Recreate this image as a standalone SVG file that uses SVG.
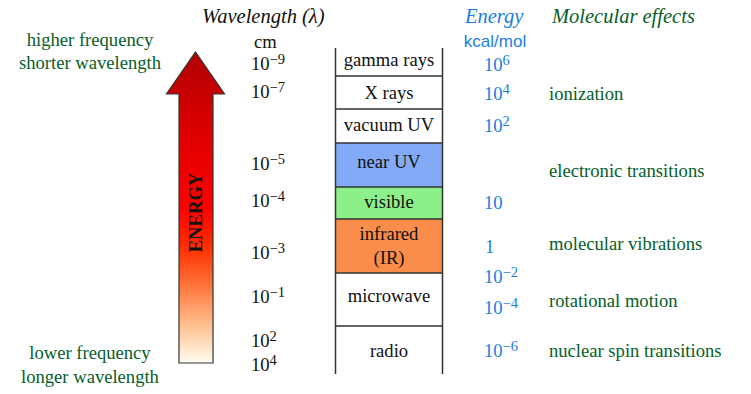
<svg xmlns="http://www.w3.org/2000/svg" width="751" height="394" viewBox="0 0 751 394">
<defs>
<linearGradient id="eg" gradientUnits="userSpaceOnUse" x1="0" y1="52" x2="0" y2="363">
<stop offset="0" stop-color="#b00000"/>
<stop offset="0.25" stop-color="#dc0000"/>
<stop offset="0.5" stop-color="#ff0000"/>
<stop offset="0.63" stop-color="#ff3000"/>
<stop offset="0.76" stop-color="#ff7a40"/>
<stop offset="0.88" stop-color="#ffc090"/>
<stop offset="1" stop-color="#fffdf0"/>
</linearGradient>
</defs>
<style>
.s{font-family:"Liberation Serif","Times New Roman",serif;font-size:18.6px;fill:#111}
.g{fill:#05602a}
.b{fill:#1a7ee0}
.h{font-family:"Liberation Serif","Times New Roman",serif;font-size:20.5px;font-style:italic}
.c{text-anchor:middle}
.sup{font-size:14.5px}
.band{stroke:none}
.ln{stroke:#333;stroke-width:1.5;fill:none}
</style>
<rect width="751" height="394" fill="#fff"/>

<g id="headers">
<text class="h" x="202" y="23" fill="#111">Wavelength (λ)</text>
<text class="h b" x="465" y="23">Energy</text>
<text class="h g" x="552" y="23">Molecular effects</text>
<text x="495" y="47" class="c b" font-family="Liberation Sans, Arial, sans-serif" font-size="17">kcal/mol</text>
<text class="s" x="254" y="48">cm</text>
</g>

<g id="freq-labels">
<text class="s g c" x="90" y="46">higher frequency</text>
<text class="s g c" x="90" y="69">shorter wavelength</text>
<text class="s g c" x="90" y="359">lower frequency</text>
<text class="s g c" x="90" y="383">longer wavelength</text>
</g>

<g id="energy-arrow">
<polygon points="195.5,52 224.5,94 213,94 213,363 179,363 179,94 166.5,94" fill="url(#eg)" stroke="#333" stroke-width="1.2" stroke-linejoin="miter"/>
<text class="s c" transform="translate(202,212.5) rotate(-90)" font-weight="bold" font-size="17.5" fill="#1a1a1a">ENERGY</text>
</g>

<g id="wavelengths" class="s">
<text class="s" x="251" y="70">10<tspan class="sup" dy="-6">−9</tspan></text>
<text class="s" x="251" y="98">10<tspan class="sup" dy="-6">−7</tspan></text>
<text class="s" x="251" y="170">10<tspan class="sup" dy="-6">−5</tspan></text>
<text class="s" x="251" y="207">10<tspan class="sup" dy="-6">−4</tspan></text>
<text class="s" x="251" y="259">10<tspan class="sup" dy="-6">−3</tspan></text>
<text class="s" x="251" y="303">10<tspan class="sup" dy="-6">−1</tspan></text>
<text class="s" x="251" y="347">10<tspan class="sup" dy="-6">2</tspan></text>
<text class="s" x="251" y="371">10<tspan class="sup" dy="-6">4</tspan></text>
</g>

<g id="spectrum">
<g id="gamma"><text class="s c" x="389" y="66">gamma rays</text></g>
<g id="xrays"><text class="s c" x="389" y="99">X rays</text></g>
<g id="vacuum-uv"><text class="s c" x="389" y="131">vacuum UV</text></g>
<g id="near-uv"><rect class="band" x="335.5" y="143" width="107" height="44" fill="#82aaf6"/><text class="s c" x="389" y="168">near UV</text></g>
<g id="visible"><rect class="band" x="335.5" y="187" width="107" height="32" fill="#8def8a"/><text class="s c" x="389" y="208">visible</text></g>
<g id="infrared"><rect class="band" x="335.5" y="219" width="107" height="54" fill="#fb8d4b"/><text class="s c" x="389" y="240">infrared</text><text class="s c" x="389" y="264">(IR)</text></g>
<g id="microwave"><text class="s c" x="389" y="302">microwave</text></g>
<g id="radio"><text class="s c" x="389" y="357">radio</text></g>
<path class="ln" d="M335.5,48V374M442.5,48V374M335.5,76H442.5M335.5,109H442.5M335.5,143H442.5M335.5,187H442.5M335.5,219H442.5M335.5,273H442.5M335.5,326H442.5"/>
</g>

<g id="energies">
<text class="s b" x="484" y="71">10<tspan class="sup" dy="-6">6</tspan></text>
<text class="s b" x="484" y="100">10<tspan class="sup" dy="-6">4</tspan></text>
<text class="s b" x="484" y="132">10<tspan class="sup" dy="-6">2</tspan></text>
<text class="s b" x="484" y="209">10</text>
<text class="s b" x="485" y="253">1</text>
<text class="s b" x="484" y="283">10<tspan class="sup" dy="-6">−2</tspan></text>
<text class="s b" x="484" y="314">10<tspan class="sup" dy="-6">−4</tspan></text>
<text class="s b" x="484" y="357">10<tspan class="sup" dy="-6">−6</tspan></text>
</g>

<g id="effects">
<text class="s g" x="549" y="100">ionization</text>
<text class="s g" x="549" y="177">electronic transitions</text>
<text class="s g" x="549" y="250">molecular vibrations</text>
<text class="s g" x="549" y="307">rotational motion</text>
<text class="s g" x="549" y="357">nuclear spin transitions</text>
</g>
</svg>
